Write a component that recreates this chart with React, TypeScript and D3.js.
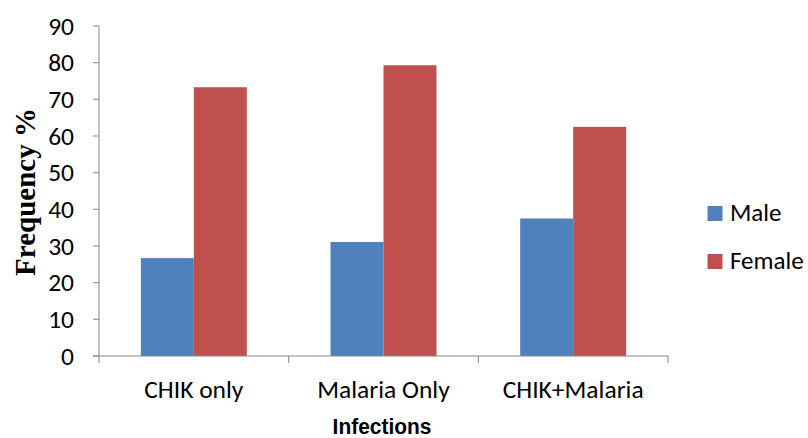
import React from "react";
import * as d3 from "d3";

const categories = ["CHIK only", "Malaria Only", "CHIK+Malaria"];
const series = ["Male", "Female"];
const maleValues = [26.7, 31.1, 37.5];
const femaleValues = [73.3, 79.3, 62.5];
const yTicks = [0, 10, 20, 30, 40, 50, 60, 70, 80, 90];
const colors = ["#4F81BD", "#C0504D"];

const W = 808;
const H = 438;
const left = 99;
const right = 668;
const top = 26;
const bottom = 356;
const labelFont = "Carlito, Lato, 'Open Sans', sans-serif";
const labelSize = 25.5;

export default function App() {
  const x = d3.scaleBand<string>().domain(categories).range([left, right]).paddingInner(0).paddingOuter(0);
  const y = d3.scaleLinear().domain([0, 90]).range([bottom, top]);
  const inner = d3
    .scaleBand<string>()
    .domain(series)
    .range([0, x.bandwidth()])
    .paddingOuter(0.79)
    .paddingInner(0);
  const values = [maleValues, femaleValues];
  const axisColor = "#868686";

  return (
    <svg width={W} height={H} style={{ position: "absolute", left: 0, top: 0 }}>
      <rect width={W} height={H} fill="#fff" />
      {categories.map((c, i) =>
        series.map((s, j) => {
          const v = values[j][i];
          return (
            <rect
              key={c + s}
              x={(x(c) as number) + (inner(s) as number)}
              y={y(v)}
              width={inner.bandwidth()}
              height={bottom - y(v)}
              fill={colors[j]}
            />
          );
        })
      )}
      <line x1={left} x2={left} y1={top} y2={bottom} stroke={axisColor} strokeWidth={1} />
      {yTicks.map((t) => (
        <g key={t}>
          <line x1={left - 6} x2={left} y1={y(t)} y2={y(t)} stroke={axisColor} />
          <text
            x={74}
            y={y(t) + 8.5}
            textAnchor="end"
            fontFamily={labelFont}
            fontSize={labelSize}
            fill="#000"
          >
            {t}
          </text>
        </g>
      ))}
      <line x1={left - 6} x2={right} y1={bottom} y2={bottom} stroke={axisColor} />
      {[...categories.map((c) => x(c) as number), right].map((px, i) => (
        <line key={i} x1={px} x2={px} y1={bottom} y2={bottom + 7} stroke={axisColor} />
      ))}
      {categories.map((c) => (
        <text
          key={c}
          x={(x(c) as number) + x.bandwidth() / 2}
          y={398}
          textAnchor="middle"
          fontFamily={labelFont}
          fontSize={labelSize}
          fill="#000"
        >
          {c}
        </text>
      ))}
      <text
        transform="translate(382,434) scale(0.93,1)"
        textAnchor="middle"
        fontFamily="'Liberation Sans', Arial, sans-serif"
        fontWeight="bold"
        fontSize={22.5}
        fill="#000"
      >
        Infections
      </text>
      <text
        transform="translate(35,192) rotate(-90)"
        textAnchor="middle"
        fontFamily="'Liberation Serif', 'Times New Roman', serif"
        fontWeight="bold"
        fontSize={29}
        fill="#000"
      >
        Frequency %
      </text>
      {series.map((s, j) => (
        <g key={s} transform={`translate(707.5,${206 + j * 48})`}>
          <rect width={15} height={15} fill={colors[j]} />
          <text x={22.5} y={15} fontFamily={labelFont} fontSize={25} fill="#000">
            {s}
          </text>
        </g>
      ))}
    </svg>
  );
}
